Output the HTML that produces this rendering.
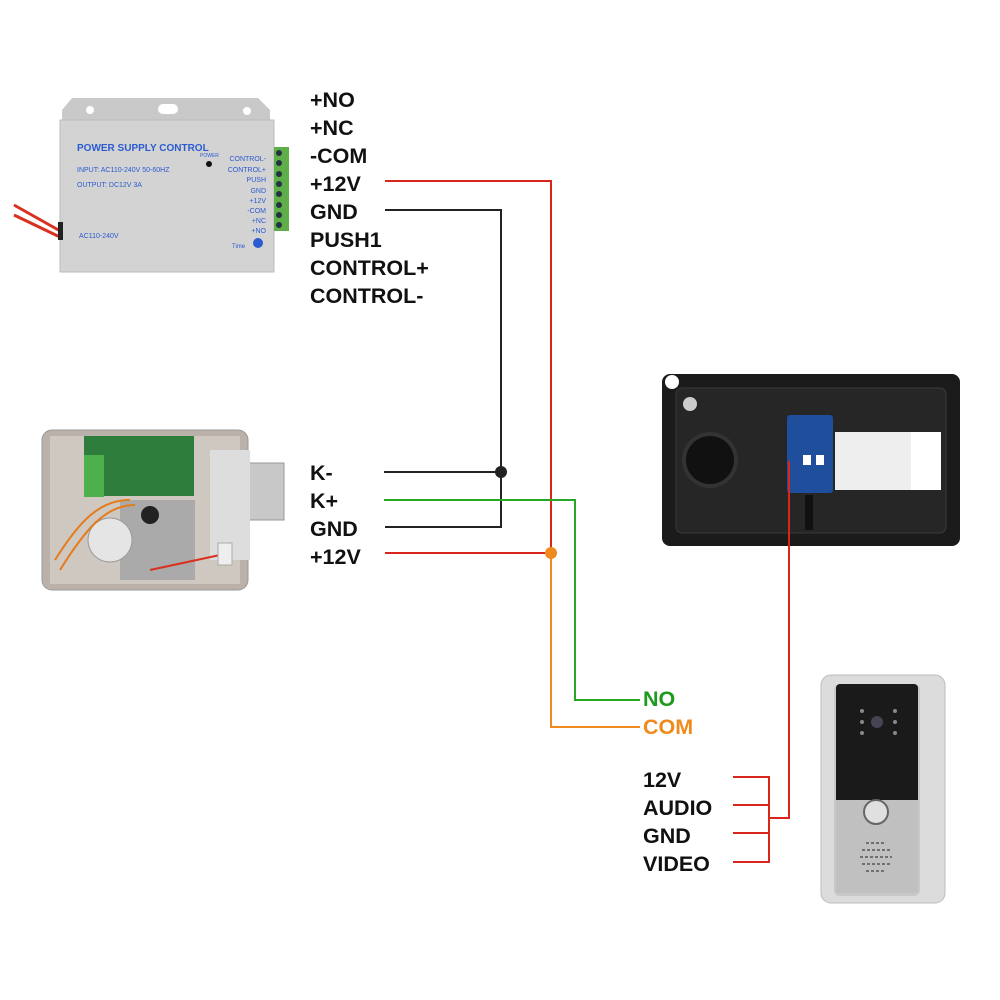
<!DOCTYPE html>
<html><head><meta charset="utf-8"><style>
html,body{margin:0;padding:0;background:#fff}
svg{display:block}
text{font-family:"Liberation Sans",Arial,sans-serif}
.l{font-size:21.5px;font-weight:bold;fill:#111}
</style></head><body>
<svg width="1000" height="1000" viewBox="0 0 1000 1000" xmlns="http://www.w3.org/2000/svg">
<!-- power supply -->
<path d="M14,205 L62,232 M14,215 L62,238" stroke="#d9301f" stroke-width="3"/>
<path d="M72,98 L258,98 L270,110 L270,272 L62,272 L62,110 Z" fill="#c9c9c9"/>
<rect x="60" y="120" width="214" height="152" fill="#d3d3d3" stroke="#bbb"/>
<rect x="58" y="222" width="5" height="18" fill="#222"/>
<circle cx="90" cy="110" r="4" fill="#fff"/><circle cx="247" cy="111" r="4" fill="#fff"/>
<rect x="158" y="104" width="20" height="10" rx="5" fill="#fff"/>
<rect x="274" y="147" width="15" height="84" fill="#5fae4a"/>
<g fill="#234">
<circle cx="279" cy="153" r="3"/><circle cx="279" cy="163" r="3"/><circle cx="279" cy="174" r="3"/><circle cx="279" cy="184" r="3"/><circle cx="279" cy="194" r="3"/><circle cx="279" cy="205" r="3"/><circle cx="279" cy="215" r="3"/><circle cx="279" cy="225" r="3"/></g>
<g fill="#2a5bd0" font-family="Liberation Sans,Arial,sans-serif">
<text x="77" y="151" font-size="10" font-weight="bold">POWER SUPPLY CONTROL</text>
<text x="77" y="172" font-size="7">INPUT: AC110-240V 50-60HZ</text>
<text x="77" y="187" font-size="7">OUTPUT: DC12V  3A</text>
<text x="79" y="238" font-size="7">AC110-240V</text>
<text x="200" y="157" font-size="5">POWER</text>
<g font-size="7" text-anchor="end"><text x="266" y="161">CONTROL-</text><text x="266" y="172">CONTROL+</text><text x="266" y="182">PUSH</text><text x="266" y="193">GND</text><text x="266" y="203">+12V</text><text x="266" y="213">-COM</text><text x="266" y="223">+NC</text><text x="266" y="233">+NO</text></g>
<text x="232" y="248" font-size="6">Time</text><circle cx="258" cy="243" r="5"/>
</g>
<circle cx="209" cy="164" r="3" fill="#111"/>
<!-- lock -->
<rect x="42" y="430" width="206" height="160" rx="10" fill="#b9b1aa" stroke="#999"/>
<rect x="50" y="436" width="190" height="148" fill="#cfc8c1"/>
<rect x="248" y="463" width="36" height="57" fill="#c8c8c8" stroke="#999"/>
<rect x="210" y="450" width="40" height="110" fill="#ddd"/>
<rect x="84" y="436" width="110" height="60" fill="#2f7d3d"/>
<rect x="84" y="455" width="20" height="42" fill="#4cb04c"/>
<rect x="120" y="500" width="75" height="80" fill="#aaa"/>
<circle cx="110" cy="540" r="22" fill="#e5e5e5" stroke="#999"/>
<circle cx="150" cy="515" r="9" fill="#222"/>
<path d="M55,560 C80,520 100,500 130,500 M60,570 C85,530 105,505 135,505" stroke="#e47b1d" stroke-width="2" fill="none"/>
<path d="M150,570 L220,555" stroke="#d9301f" stroke-width="2"/>
<rect x="218" y="543" width="14" height="22" fill="#eee" stroke="#aaa"/>
<!-- monitor -->
<rect x="662" y="374" width="298" height="172" rx="8" fill="#1b1b1b"/>
<rect x="676" y="388" width="270" height="145" rx="6" fill="#262626" stroke="#3a3a3a"/>
<circle cx="672" cy="382" r="7" fill="#fff"/>
<circle cx="690" cy="404" r="7" fill="#ccc"/>
<circle cx="710" cy="460" r="26" fill="#111" stroke="#333" stroke-width="4"/>
<rect x="787" y="415" width="46" height="78" rx="3" fill="#1f4e9c"/>
<rect x="803" y="455" width="8" height="10" fill="#fff"/><rect x="816" y="455" width="8" height="10" fill="#fff"/>
<rect x="835" y="432" width="76" height="58" fill="#eee"/>
<rect x="911" y="432" width="30" height="58" fill="#fff"/>
<rect x="805" y="495" width="8" height="35" fill="#111"/>
<!-- door station -->
<rect x="821" y="675" width="124" height="228" rx="10" fill="#dcdcdc" stroke="#bbb"/>
<rect x="834" y="684" width="86" height="212" rx="6" fill="#c8c8c8"/>
<rect x="836" y="684" width="82" height="120" rx="4" fill="#1a1a1a"/>
<rect x="836" y="800" width="82" height="93" fill="#c0c0c0"/>
<circle cx="876" cy="812" r="12" fill="#e0e0e0" stroke="#666" stroke-width="2"/>
<circle cx="877" cy="722" r="6" fill="#445"/>
<g fill="#888"><circle cx="862" cy="711" r="2"/><circle cx="862" cy="722" r="2"/><circle cx="862" cy="733" r="2"/><circle cx="895" cy="711" r="2"/><circle cx="895" cy="722" r="2"/><circle cx="895" cy="733" r="2"/></g>
<g stroke="#555" stroke-width="1.5" stroke-dasharray="3,2"><path d="M866,843h20M862,850h28M860,857h32M862,864h28M866,871h20"/></g>
<!-- wires -->
<g fill="none" stroke-width="2">
<path d="M385,181 H551 V553" stroke="#d9251c"/>
<path d="M385,553 H551" stroke="#d9251c"/>
<path d="M385,210 H501 V527 H385" stroke="#222"/>
<path d="M384,472 H501" stroke="#222"/>
<path d="M384,500 H575 V700 H640" stroke="#26a826"/>
<path d="M551,553 V727 H640" stroke="#ef8a1d"/>
<path d="M789,461 V818 H769" stroke="#d9251c"/>
<path d="M733,777 H769 V862 H733 M733,805 H769 M733,833 H769" stroke="#d9251c"/>
</g>
<circle cx="501" cy="472" r="6" fill="#222"/>
<circle cx="551" cy="553" r="6" fill="#ef8a1d"/>
<!-- labels -->
<g class="l">
<text class="l" x="310" y="107">+NO</text>
<text class="l" x="310" y="135">+NC</text>
<text class="l" x="310" y="163">-COM</text>
<text class="l" x="310" y="191">+12V</text>
<text class="l" x="310" y="219">GND</text>
<text class="l" x="310" y="247">PUSH1</text>
<text class="l" x="310" y="275">CONTROL+</text>
<text class="l" x="310" y="303">CONTROL-</text>
<text class="l" x="310" y="480">K-</text>
<text class="l" x="310" y="508">K+</text>
<text class="l" x="310" y="536">GND</text>
<text class="l" x="310" y="564">+12V</text>
<text class="l" x="643" y="706" style="fill:#1e9a1e">NO</text>
<text class="l" x="643" y="734" style="fill:#ef8a1d">COM</text>
<text class="l" x="643" y="787">12V</text>
<text class="l" x="643" y="815">AUDIO</text>
<text class="l" x="643" y="843">GND</text>
<text class="l" x="643" y="871">VIDEO</text>
</g>
</svg>
</body></html>
